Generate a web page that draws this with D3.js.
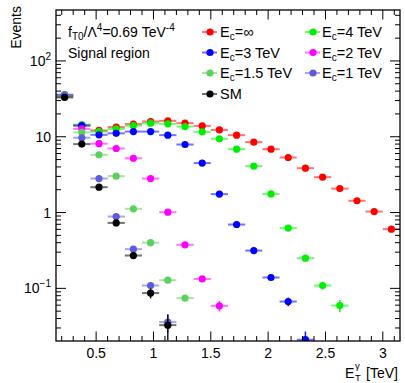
<!DOCTYPE html>
<html><head><meta charset="utf-8">
<script src="https://cdn.jsdelivr.net/npm/d3@7"></script>
<style>body{margin:0;background:#fff}svg{display:block}text{font-family:"Liberation Sans",Arial,sans-serif}</style>
</head><body><svg id="c" width="405" height="383"></svg>
<script>
const binCenters = [0.225,0.375,0.525,0.675,0.825,0.975,1.125,1.275,1.425,1.575,1.725,1.875,2.025,2.175,2.325,2.475,2.625,2.775,2.925,3.075];
const binHalfWidth = 0.075;
const xTicks = [0.5,1,1.5,2,2.5,3];
const xTickLabels = ["0.5","1","1.5","2","2.5","3"];
const yTicks = [0.1,1,10,100];

const ecInf   = [35,14.2,12.1,13.4,14.7,15.9,16.2,15.1,13.9,12.3,10.5,8.49,6.86,5.32,3.85,2.93,2.07,1.43,1.03,0.604];
const ecInfErr= [1,0.5,0.4,0.4,0.4,0.4,0.4,0.4,0.4,0.3,0.3,0.25,0.2,0.15,0.12,0.1,0.08,0.06,0.05,0.04];
const ec4     = [35.5,14.4,11.7,12.7,14.0,15.1,14.8,13.6,11.6,9.4,6.86,4.09,1.76,0.623,0.25,0.109,0.0593,null,null,null];
const ec4Err  = [1,0.5,0.4,0.4,0.4,0.4,0.4,0.4,0.4,0.3,0.25,0.15,0.08,0.04,0.02,0.013,0.011,null,null,null];
const ec3     = [35,14.0,10.6,11.1,11.7,11.7,10.5,7.9,4.49,1.75,0.695,0.315,0.139,0.067,0.021,null,null,null,null,null];
const ec3Err  = [1,0.5,0.4,0.4,0.4,0.4,0.3,0.25,0.15,0.08,0.04,0.02,0.012,0.009,0.006,null,null,null,null,null];
const ec2     = [34,12.7,8.1,7.0,5.2,2.81,1.01,0.375,0.133,0.0587,null,null,null,null,null,null,null,null,null,null];
const ec2Err  = [1,0.5,0.3,0.3,0.2,0.1,0.05,0.025,0.01,0.009,null,null,null,null,null,null,null,null,null,null];
const ec15    = [34.5,11.4,5.77,3.02,1.12,0.40,0.128,0.0743,null,null,null,null,null,null,null,null,null,null,null,null];
const ec15Err = [1,0.4,0.2,0.12,0.06,0.025,0.01,0.006,null,null,null,null,null,null,null,null,null,null,null,null];
const ec1     = [36,9.7,2.81,0.886,0.329,0.109,0.0358,null,null,null,null,null,null,null,null,null,null,null,null,null];
const ec1Err  = [1,0.4,0.15,0.05,0.025,0.012,0.01,null,null,null,null,null,null,null,null,null,null,null,null,null];
const sm      = [33,8.0,2.16,0.73,0.271,0.0865,0.0327,null,null,null,null,null,null,null,null,null,null,null,null,null];
const smErr   = [1,0.4,0.12,0.05,0.025,0.013,0.012,null,null,null,null,null,null,null,null,null,null,null,null,null];

const seriesNames = ["E_c=∞","E_c=4 TeV","E_c=3 TeV","E_c=2 TeV","E_c=1.5 TeV","E_c=1 TeV","SM"];
const seriesColors = ["#ff0000","#00ee00","#0000ff","#ff00ff","#5ccf5c","#5c5cdc","#000000"];
const seriesValues = [ecInf,ec4,ec3,ec2,ec15,ec1,sm];
const seriesErrors = [ecInfErr,ec4Err,ec3Err,ec2Err,ec15Err,ec1Err,smErr];
const drawOrder = [0,1,2,3,4,5,6];
const legendSlots = [[0,0,0],[2,0,1],[4,0,2],[6,0,3],[1,1,0],[3,1,1],[5,1,2]];

const svg = d3.select("#c");
const L=56,R=400,T=10,B=341;
const x = d3.scaleLinear().domain([0.15,3.15]).range([L,R]);
const y = d3.scaleLog().domain([0.0202,470]).range([B,T]);

svg.append("defs").append("clipPath").attr("id","clip").append("rect")
  .attr("x",L).attr("y",T).attr("width",R-L).attr("height",B-T);

const data = svg.append("g").attr("clip-path","url(#clip)");
drawOrder.forEach(si=>{
  const col = seriesColors[si];
  const pts = binCenters.map((c,i)=>({c,v:seriesValues[si][i],e:seriesErrors[si][i]})).filter(d=>d.v!=null);
  const g = data.append("g");
  g.selectAll("line.h").data(pts).join("line")
    .attr("x1",d=>x(d.c-binHalfWidth)).attr("x2",d=>x(d.c+binHalfWidth))
    .attr("y1",d=>y(d.v)).attr("y2",d=>y(d.v))
    .attr("stroke",col).attr("stroke-opacity",0.55).attr("stroke-width",2);
  g.selectAll("line.v").data(pts).join("line")
    .attr("x1",d=>x(d.c)).attr("x2",d=>x(d.c))
    .attr("y1",d=>y(Math.max(d.v-d.e,0.001))).attr("y2",d=>y(d.v+d.e))
    .attr("stroke",col).attr("stroke-opacity",0.9).attr("stroke-width",1.5);
  g.selectAll("circle").data(pts).join("circle")
    .attr("cx",d=>x(d.c)).attr("cy",d=>y(d.v)).attr("r",3.6).attr("fill",col);
});

svg.append("rect").attr("x",L).attr("y",T).attr("width",R-L).attr("height",B-T)
  .attr("fill","none").attr("stroke","#000").attr("stroke-width",1.3);

const ax = svg.append("g").attr("stroke","#000").attr("stroke-width",1);
const xMinor = d3.range(2,32).map(k=>k/10).filter(v=>v>=0.15&&v<=3.15);
xMinor.forEach(v=>{
  const major = xTicks.some(t=>Math.abs(t-v)<1e-6);
  const len = major?9.5:5;
  ax.append("line").attr("x1",x(v)).attr("x2",x(v)).attr("y1",B).attr("y2",B-len);
  ax.append("line").attr("x1",x(v)).attr("x2",x(v)).attr("y1",T).attr("y2",T+len);
});
const yMinor=[];
[0.01,0.1,1,10,100].forEach(d=>{for(let k=1;k<10;k++){const v=d*k; if(v>=0.0202&&v<=470) yMinor.push({v,major:k===1});}});
yMinor.forEach(t=>{
  const len=t.major?10:5;
  ax.append("line").attr("x1",L).attr("x2",L+len).attr("y1",y(t.v)).attr("y2",y(t.v));
  ax.append("line").attr("x1",R).attr("x2",R-len).attr("y1",y(t.v)).attr("y2",y(t.v));
});

svg.append("g").selectAll("text").data(xTicks).join("text")
  .attr("x",d=>x(d)).attr("y",B+17).attr("text-anchor","middle")
  .attr("font-size",14).text((d,i)=>xTickLabels[i]);

const yl = svg.append("g").attr("font-size",14).attr("text-anchor","end");
function yLabel(v, base, exp){
  const t = yl.append("text").attr("x",L-5).attr("y",y(v)+5);
  t.append("tspan").text(base);
  if(exp){ t.append("tspan").attr("dy",-6).attr("font-size",10).text(exp); }
}
yLabel(100,"10","2");
yLabel(10,"10","");
yLabel(1,"1","");
yLabel(0.1,"10","−1");

svg.append("text").attr("transform","translate(21,6) rotate(-90)").attr("text-anchor","end")
  .attr("font-size",14).text("Events");
const xt = svg.append("g").attr("font-size",14);
xt.append("text").attr("x",345).attr("y",378).text("E");
xt.append("text").attr("x",355).attr("y",369).attr("font-size",9.5).text("γ");
xt.append("text").attr("x",355).attr("y",381).attr("font-size",9.5).text("T");
xt.append("text").attr("x",366).attr("y",378).text("[TeV]");

const a1 = svg.append("text").attr("x",68).attr("y",37).attr("font-size",14);
a1.append("tspan").text("f");
a1.append("tspan").attr("dy",3).attr("font-size",10).text("T0");
a1.append("tspan").attr("dy",-3).text("/Λ");
a1.append("tspan").attr("dy",-6).attr("font-size",10).text("4");
a1.append("tspan").attr("dy",6).text("=0.69 TeV");
a1.append("tspan").attr("dy",-6).attr("font-size",10).text("-4");
svg.append("text").attr("x",68).attr("y",58).attr("font-size",14).text("Signal region");

const colX=[[202,217,210,220],[305,320,313,322]];
const rowY=[32,52.5,73,94];
const lg = svg.append("g");
legendSlots.forEach(([si,c,r])=>{
  const cx=colX[c], yy=rowY[r], col=seriesColors[si];
  lg.append("line").attr("x1",cx[0]).attr("x2",cx[1]).attr("y1",yy).attr("y2",yy)
    .attr("stroke",col).attr("stroke-opacity",0.55).attr("stroke-width",2);
  lg.append("circle").attr("cx",cx[2]).attr("cy",yy).attr("r",3.6).attr("fill",col);
  const t = lg.append("text").attr("x",cx[3]).attr("y",yy+5).attr("font-size",14.5);
  const name = seriesNames[si];
  if(name.startsWith("E_c")){
    t.append("tspan").text("E");
    t.append("tspan").attr("dy",3).attr("font-size",10).text("c");
    t.append("tspan").attr("dy",-3).text(name.slice(3));
  } else t.text(name);
});
</script></body></html>
